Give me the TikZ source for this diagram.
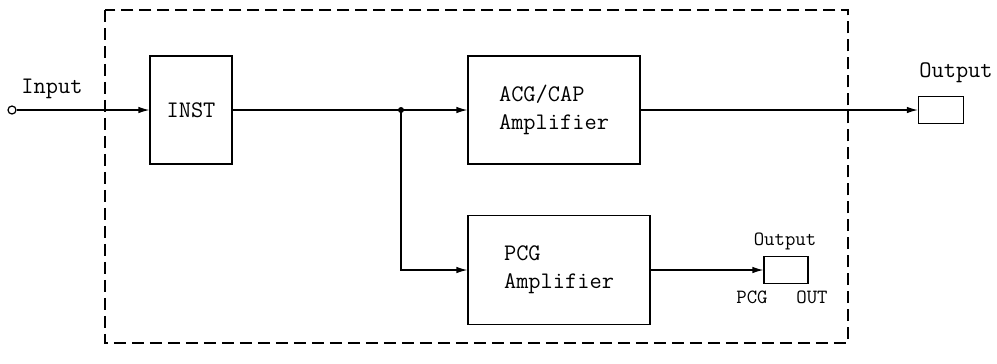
\documentclass[tikz,border=0pt]{standalone}
\usepackage{tikz}
\usetikzlibrary{arrows.meta, positioning, calc}

\begin{document}
\begin{tikzpicture}[
  x=0.02cm, y=-0.02cm,
  every node/.style={font=\ttfamily\fontsize{13.5}{16}\selectfont},
  block/.style={rectangle, draw, line width=0.7pt, inner sep=0pt, align=left},
  outbox/.style={rectangle, draw, line width=0.7pt, inner sep=0pt, minimum width=0.9cm, minimum height=0.54cm},
  tag/.style={inner sep=0pt, font=\ttfamily\fontsize{11.5}{13}\selectfont},
  arrow/.style={-{Latex[length=2.2mm, width=1.3mm]}, line width=0.7pt},
  wire/.style={line width=0.7pt}
]
\useasboundingbox (0,0) rectangle (997,363);

% Dashed enclosure
\draw[line width=0.7pt, dash pattern=on 0.24cm off 0.12cm] (105,10) rectangle (848,343);

% Input terminal
\node[circle, draw, line width=0.7pt, inner sep=0pt, minimum size=0.16cm] (in) at (12,110) {};
\node[inner sep=0pt] (inlabel) at (52,89) {Input};

% INST
\node[block, minimum width=1.64cm, minimum height=2.16cm] (inst) at (191,110) {INST};

% ACG/CAP Amplifier
\node[block, minimum width=3.44cm, minimum height=2.16cm] (acg) at (554,110) {ACG/CAP\\Amplifier};

% PCG Amplifier
\node[block, minimum width=3.64cm, minimum height=2.18cm] (pcg) at (559,270) {PCG\\Amplifier};

% Outputs
\node[outbox] (out) at (941,110) {};
\node[inner sep=0pt] (outlabel) at (956,73) {Output};
\node[outbox, minimum width=0.88cm] (pcgout) at (786,270) {};
\node[tag] (pcgoutlabel) at (785,241) {Output};
\node[tag] (pcgtag) at (752,297) {PCG};
\node[tag] (outtag) at (812,297) {OUT};

% Junction
\coordinate (jn) at (401,110);
\fill (jn) circle (0.06cm);

% Arrows
\draw[arrow] (in) -- (inst);
\draw[wire] (inst) -- (jn);
\draw[arrow] (jn) -- (acg);
\draw[arrow] (jn) |- (pcg);
\draw[arrow] (acg) -- (out);
\draw[arrow] (pcg) -- (pcgout);

\end{tikzpicture}
\end{document}
